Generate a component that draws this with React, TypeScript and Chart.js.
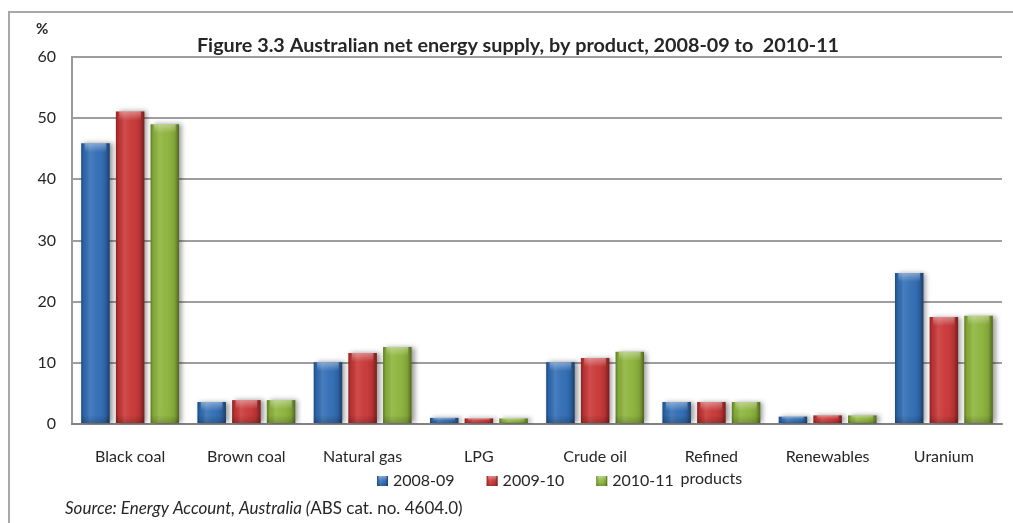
import React, { useEffect, useRef } from "react";
import { Chart, registerables } from "chart.js";

Chart.register(...registerables);

const categories: (string | string[])[] = [
  "Black coal",
  "Brown coal",
  "Natural gas",
  "LPG",
  "Crude oil",
  ["Refined", "products"],
  "Renewables",
  "Uranium",
];

const series2008_09 = [45.9, 3.6, 10.1, 1.0, 10.1, 3.6, 1.2, 24.7];
const series2009_10 = [51.1, 3.9, 11.6, 0.9, 10.8, 3.6, 1.4, 17.5];
const series2010_11 = [49.0, 3.9, 12.6, 0.9, 11.8, 3.6, 1.4, 17.7];

const seriesLabels = ["2008-09", "2009-10", "2010-11"];
const seriesColors = ["#2f6cb4", "#c83535", "#8cb33a"];

const yTicks = [0, 10, 20, 30, 40, 50, 60];

const titleText = "Figure 3.3 Australian net energy supply, by product, 2008-09 to  2010-11";
const sourceItalic = "Source: Energy Account, Australia (";
const sourceRegular = "ABS cat. no. 4604.0)";
const unitLabel = "%";

const FONT = "Lato, 'Open Sans', sans-serif";
const TEXT = "#262626";

function shadeOverlay(ctx: CanvasRenderingContext2D, x0: number, y0: number, w: number, h: number) {
  const g = ctx.createLinearGradient(x0, 0, x0 + w, 0);
  g.addColorStop(0, "rgba(0,0,0,0.30)");
  g.addColorStop(0.1, "rgba(0,0,0,0.06)");
  g.addColorStop(0.3, "rgba(255,255,255,0.12)");
  g.addColorStop(0.55, "rgba(255,255,255,0.04)");
  g.addColorStop(0.85, "rgba(0,0,0,0.10)");
  g.addColorStop(1, "rgba(0,0,0,0.42)");
  ctx.fillStyle = g;
  ctx.fillRect(x0, y0, w, h);
  const capH = Math.min(9, h * 0.5);
  const v = ctx.createLinearGradient(0, y0, 0, y0 + capH);
  v.addColorStop(0, "rgba(255,255,255,0.38)");
  v.addColorStop(0.6, "rgba(255,255,255,0.15)");
  v.addColorStop(1, "rgba(255,255,255,0)");
  ctx.fillStyle = v;
  ctx.fillRect(x0 + w * 0.12, y0, w * 0.76, capH);
  const b = ctx.createLinearGradient(0, y0 + h - Math.min(8, h * 0.4), 0, y0 + h);
  b.addColorStop(0, "rgba(0,0,0,0)");
  b.addColorStop(1, "rgba(0,0,0,0.18)");
  ctx.fillStyle = b;
  ctx.fillRect(x0, y0 + h - Math.min(8, h * 0.4), w, Math.min(8, h * 0.4));
}

const decorPlugin = {
  id: "decor",
  beforeDraw(chart: any) {
    const ctx: CanvasRenderingContext2D = chart.ctx;
    ctx.save();
    ctx.fillStyle = "#ffffff";
    ctx.fillRect(0, 0, chart.width, chart.height);
    ctx.strokeStyle = "#a8a8a8";
    ctx.lineWidth = 2;
    ctx.beginPath();
    ctx.moveTo(9, chart.height);
    ctx.lineTo(9, 12);
    ctx.lineTo(chart.width, 12);
    ctx.stroke();
    ctx.restore();
  },
  beforeDatasetsDraw(chart: any) {
    const ctx: CanvasRenderingContext2D = chart.ctx;
    ctx.save();
    ctx.shadowColor = "rgba(0,0,0,0.4)";
    ctx.shadowBlur = 5;
    ctx.shadowOffsetX = 3;
    ctx.shadowOffsetY = 0;
  },
  afterDatasetsDraw(chart: any) {
    const ctx: CanvasRenderingContext2D = chart.ctx;
    ctx.restore();
    ctx.save();
    chart.data.datasets.forEach((_ds: any, i: number) => {
      const meta = chart.getDatasetMeta(i);
      meta.data.forEach((bar: any) => {
        const { x, y, base, width } = bar.getProps(["x", "y", "base", "width"], true);
        const top = Math.min(y, base);
        const h = Math.abs(base - y);
        shadeOverlay(ctx, x - width / 2, top, width, h);
      });
    });
    ctx.restore();
  },
  afterDraw(chart: any) {
    const ctx: CanvasRenderingContext2D = chart.ctx;
    ctx.save();
    ctx.fillStyle = TEXT;
    ctx.textBaseline = "middle";
    // unit
    ctx.font = `bold 15px ${FONT}`;
    ctx.textAlign = "left";
    ctx.fillText(unitLabel, 36, 29);
    // title
    ctx.font = `bold 19.8px ${FONT}`;
    ctx.textAlign = "center";
    ctx.fillText(titleText, 518, 46);
    // legend
    ctx.font = `16px ${FONT}`;
    ctx.textAlign = "left";
    let lx = 377;
    const ly = 481;
    chart.data.datasets.forEach((ds: any) => {
      ctx.fillStyle = ds.backgroundColor;
      ctx.fillRect(lx, ly - 5, 11, 10);
      shadeOverlay(ctx, lx, ly - 5, 11, 10);
      ctx.fillStyle = TEXT;
      ctx.fillText(ds.label, lx + 16, ly);
      const tw = ctx.measureText(ds.label).width;
      lx += 16 + tw + 32;
    });
    // source
    ctx.textBaseline = "alphabetic";
    ctx.font = `italic 17px ${FONT}`;
    ctx.fillText(sourceItalic, 65, 514);
    const iw = ctx.measureText(sourceItalic).width;
    ctx.font = `17px ${FONT}`;
    ctx.fillText(sourceRegular, 65 + iw, 514);
    ctx.restore();
  },
};

export default function App() {
  const ref = useRef<HTMLCanvasElement | null>(null);

  useEffect(() => {
    if (!ref.current) return;
    const data = [series2008_09, series2009_10, series2010_11];
    const chart = new Chart(ref.current, {
      type: "bar",
      data: {
        labels: categories,
        datasets: data.map((d, i) => ({
          label: seriesLabels[i],
          data: d,
          backgroundColor: seriesColors[i],
          borderWidth: 0,
          categoryPercentage: 0.895,
          barPercentage: 0.82,
        })),
      },
      options: {
        responsive: false,
        animation: false,
        layout: { padding: { top: 57, right: 11, left: 0, bottom: 0 } },
        plugins: {
          legend: { display: false },
          title: { display: false },
          tooltip: { enabled: false },
        },
        scales: {
          x: {
            z: 1,
            grid: { display: false, drawTicks: false },
            border: { display: true, color: "rgba(120,120,120,0.75)", width: 2 },
            ticks: {
              color: TEXT,
              font: { family: FONT, size: 16, lineHeight: 1.375 },
              padding: 22,
              maxRotation: 0,
              autoSkip: false,
            },
            afterFit(scale: any) {
              scale.height = 99;
            },
          },
          y: {
            z: 1,
            min: 0,
            max: 60,
            afterBuildTicks(scale: any) {
              scale.ticks = yTicks.map((v) => ({ value: v }));
            },
            grid: { color: "rgba(120,120,120,0.72)", lineWidth: 2, drawTicks: false },
            border: { display: true, color: "rgba(120,120,120,0.75)", width: 2 },
            ticks: {
              color: TEXT,
              font: { family: FONT, size: 16 },
              padding: 16,
            },
            afterFit(scale: any) {
              scale.width = 72;
            },
          },
        },
      },
      plugins: [decorPlugin],
    });
    return () => chart.destroy();
  }, []);

  return (
    <div style={{ position: "absolute", left: 0, top: 0, width: 1013, height: 523 }}>
      <canvas ref={ref} width={1013} height={523} style={{ display: "block" }} />
    </div>
  );
}
